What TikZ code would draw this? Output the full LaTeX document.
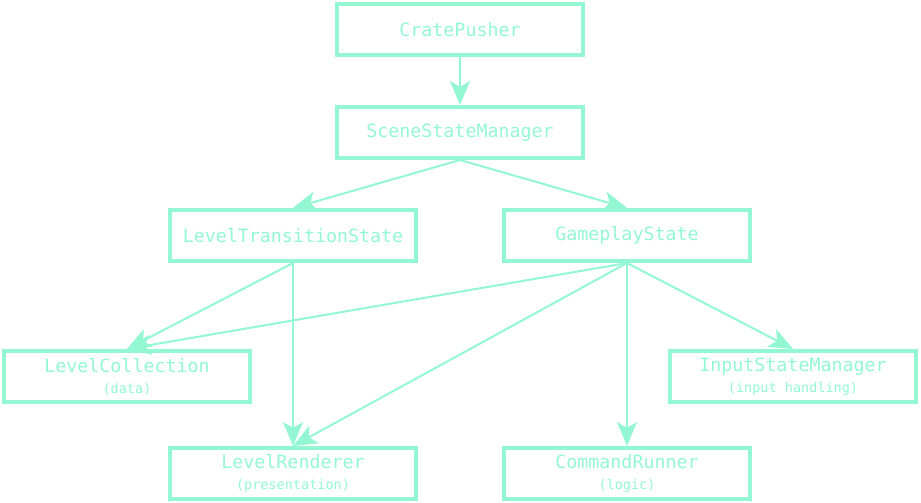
\documentclass[tikz,border=0pt]{standalone}
\usepackage{fontspec}
\setmonofont{DejaVu Sans Mono}
\usetikzlibrary{arrows.meta}
\definecolor{mint}{HTML}{94F7D4}
\tikzset{
  box/.style={draw=mint, line width=4pt, minimum width=246pt, minimum height=51pt,
    inner sep=0pt, text=mint, font=\ttfamily\fontsize{18.3}{20}\selectfont, align=center},
  conn/.style={draw=mint, line width=2pt, -{Stealth[length=24pt,width=20pt,inset=6pt]}}
}
\newcommand{\subtxt}[1]{{\fontsize{13.5}{15}\selectfont #1}}
\begin{document}
\begin{tikzpicture}[x=1pt,y=-1pt]
\useasboundingbox (0,0) rectangle (921,503);
\node[box] (cp)  at (460,29.5)  {CratePusher};
\node[box] (ssm) at (460,132.5) {SceneStateManager};
\node[box] (lts) at (293,235.5) {LevelTransitionState};
\node[box] (gs)  at (627,235.5) {GameplayState};
\node[box] (lc)  at (127,376.5) {LevelCollection\\[1pt]\subtxt{(data)}};
\node[box] (ism) at (793,376.5) {InputStateManager\\[1pt]\subtxt{(input handling)}};
\node[box] (lr)  at (293,473.5) {LevelRenderer\\[1pt]\subtxt{(presentation)}};
\node[box] (cr)  at (627,473.5) {CommandRunner\\[1pt]\subtxt{(logic)}};
\draw[conn] (cp.south) -- (ssm.north);
\draw[conn] (ssm.south) -- (lts.north);
\draw[conn] (ssm.south) -- (gs.north);
\draw[conn] (lts.south) -- (lc.north);
\draw[conn] (lts.south) -- (lr.north);
\draw[conn] (gs.south) -- (lc.north);
\draw[conn] (gs.south) -- (lr.north);
\draw[conn] (gs.south) -- (cr.north);
\draw[conn] (gs.south) -- (ism.north);
\end{tikzpicture}
\end{document}
